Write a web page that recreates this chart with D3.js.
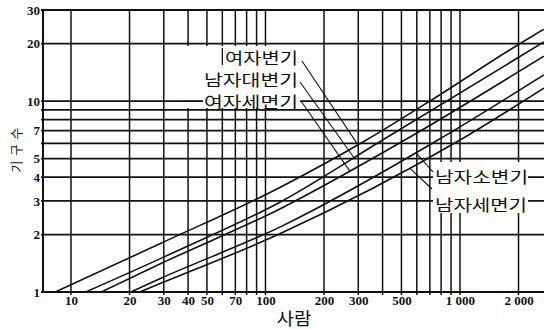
<!DOCTYPE html>
<html><head><meta charset="utf-8">
<script src="https://cdn.jsdelivr.net/npm/d3@7"></script>
<style>
html,body{margin:0;padding:0;background:#fff;}
svg{display:block;}
</style></head><body>
<svg id="chart" width="544" height="330"></svg>
<script>
// ---------- data ----------
const xGridValues = [10,20,30,40,50,60,70,80,90,100,200,300,400,500,600,700,800,900,1000,2000];
const xTickLabels = [10,20,30,40,50,70,100,200,300,500,1000,2000];
const yGridValues = [2,3,4,5,6,7,8,9,10,20,30];
const yTickLabels = [1,2,3,4,5,7,10,20,30];

const seriesNames = ["여자변기","남자대변기","여자세면기","남자소변기","남자세면기"];
const womenToiletPeople = [8.3, 29, 120, 330, 700, 2000, 2700];
const womenToiletCount  = [1, 1.8, 3.55, 6.25, 10, 19.8, 23.8];
const menToiletPeople   = [11.9, 29, 36, 120, 400, 2700];
const menToiletCount    = [1, 1.5, 1.66, 2.97, 6.25, 20.4];
const womenBasinPeople  = [14.3, 29, 120, 520, 2700];
const womenBasinCount   = [1, 1.41, 2.74, 6.25, 17.2];
const urinalPeople      = [20.3, 29, 120, 770, 2700];
const urinalCount       = [1, 1.18, 2.2, 6.25, 13.7];
const menBasinPeople    = [22.6, 29, 120, 1000, 2700];
const menBasinCount     = [1, 1.11, 2.03, 6.25, 11.7];

const xTitle = "사람";
const yTitle = "기구수";

// ---------- build ----------
const seriesPeople = [womenToiletPeople, menToiletPeople, womenBasinPeople, urinalPeople, menBasinPeople];
const seriesCount  = [womenToiletCount, menToiletCount, womenBasinCount, urinalCount, menBasinCount];
const series = seriesNames.map((name, i) => ({
  name, points: seriesPeople[i].map((p, j) => ({people: p, count: seriesCount[i][j]}))
}));

const L = 43, R = 544, T = 10, B = 292;
const x = d3.scaleLog().domain([7.18, 2704]).range([L, R]);
const y = d3.scaleLog().domain([1, 30]).range([B, T]);

const svg = d3.select("#chart");
const ink = "#111";

svg.append("defs").append("clipPath").attr("id","plot")
  .append("rect").attr("x",L).attr("y",T-2).attr("width",R-L).attr("height",B-T+2);

// grid
svg.append("g").selectAll("line").data(xGridValues).join("line")
  .attr("x1", d => x(d)).attr("x2", d => x(d))
  .attr("y1", T).attr("y2", B + 3)
  .attr("stroke", ink).attr("stroke-width", 1.5);
svg.append("g").selectAll("line").data(yGridValues).join("line")
  .attr("x1", L - 2).attr("x2", R)
  .attr("y1", d => y(d)).attr("y2", d => y(d))
  .attr("stroke", ink).attr("stroke-width", 1.8);

// frame (left & bottom)
svg.append("line").attr("x1", L).attr("x2", L).attr("y1", T - 1).attr("y2", B + 1)
  .attr("stroke", ink).attr("stroke-width", 2);
svg.append("line").attr("x1", L - 2).attr("x2", R).attr("y1", B).attr("y2", B)
  .attr("stroke", ink).attr("stroke-width", 2);

// label masks
const maskG = svg.append("g");
maskG.append("rect").attr("x",183).attr("y",46).attr("width",117).attr("height",62).attr("fill","#fff");
maskG.append("rect").attr("x",433).attr("y",162).attr("width",95).attr("height",51).attr("fill","#fff");
// visible bits of grid around the upper labels
maskG.append("line").attr("x1",183).attr("x2",203).attr("y1",y(10)).attr("y2",y(10))
  .attr("stroke",ink).attr("stroke-width",1.8);
maskG.append("line").attr("x1",x(60)).attr("x2",x(60)).attr("y1",48).attr("y2",65)
  .attr("stroke",ink).attr("stroke-width",1.3);

// series lines
const line = d3.line().x(d => x(d.people)).y(d => y(d.count)).curve(d3.curveMonotoneX);
const paths = svg.append("g").attr("clip-path","url(#plot)")
  .selectAll("path").data(series).join("path")
  .attr("d", d => line(d.points))
  .attr("fill","none").attr("stroke", ink).attr("stroke-width", 1.6);

function pointAtX(node, px) {
  const len = node.getTotalLength();
  let lo = 0, hi = len;
  for (let k = 0; k < 40; k++) {
    const mid = (lo + hi) / 2;
    if (node.getPointAtLength(mid).x < px) lo = mid; else hi = mid;
  }
  return node.getPointAtLength(lo);
}

// labels + leaders
const labelFont = "'Noto Sans CJK KR', 'Noto Sans', sans-serif";
const labels = [
  {i:0, tx:298, ty:56.5, anchor:"end",   len:73, from:[302,61],  toX:358},
  {i:1, tx:298, ty:78.5, anchor:"end",   len:94, from:[300,82],  toX:354},
  {i:2, tx:298, ty:100.5,anchor:"end",   len:94, from:[301,101], toX:350},
  {i:3, tx:435, ty:176,  anchor:"start", len:93, from:[433,172], toX:416},
  {i:4, tx:435, ty:203.5,anchor:"start", len:92, from:[432,189], toX:410}
];
const pathNodes = paths.nodes();
labels.forEach(lb => {
  const p = pointAtX(pathNodes[lb.i], lb.toX);
  svg.append("line").attr("x1", lb.from[0]).attr("y1", lb.from[1])
    .attr("x2", p.x).attr("y2", p.y)
    .attr("stroke", ink).attr("stroke-width", 1.1);
  svg.append("text").attr("x", lb.tx).attr("y", lb.ty)
    .attr("text-anchor", lb.anchor).attr("dominant-baseline","central")
    .attr("textLength", lb.len).attr("lengthAdjust","spacingAndGlyphs")
    .style("font-family", labelFont).style("font-size","16px").attr("fill", ink)
    .text(series[lb.i].name);
});

// axes (tick labels)
const numFont = "'Liberation Serif', 'DejaVu Serif', serif";
const fmtX = d => d >= 1000 ? d3.format(",")(d).replace(",", " ") : String(d);
const gx = svg.append("g").attr("transform", `translate(0,${B})`)
  .call(d3.axisBottom(x).tickValues(xTickLabels).tickFormat(fmtX).tickSize(0).tickPadding(4));
gx.select(".domain").remove();
gx.selectAll("text").style("font-family", numFont).style("font-size","13px")
  .style("font-weight","bold").attr("fill", ink);

const gy = svg.append("g").attr("transform", `translate(${L - 1},0)`)
  .call(d3.axisLeft(y).tickValues(yTickLabels).tickFormat(d3.format("d")).tickSize(0).tickPadding(2));
gy.select(".domain").remove();
gy.selectAll("text").style("font-family", numFont).style("font-size","13px")
  .style("font-weight","bold").attr("fill", ink);

// titles
svg.append("text").attr("x", 294).attr("y", 317).attr("text-anchor","middle")
  .attr("dominant-baseline","central").attr("textLength", 35).attr("lengthAdjust","spacingAndGlyphs")
  .style("font-family", labelFont).style("font-size","17px").attr("fill", ink).text(xTitle);
svg.append("text").attr("transform","translate(15,150) rotate(-90)").attr("text-anchor","middle")
  .attr("dominant-baseline","central").attr("textLength", 45).attr("lengthAdjust","spacing")
  .style("font-family", labelFont).style("font-size","13px").attr("fill", ink).text(yTitle);
</script>
</body></html>
